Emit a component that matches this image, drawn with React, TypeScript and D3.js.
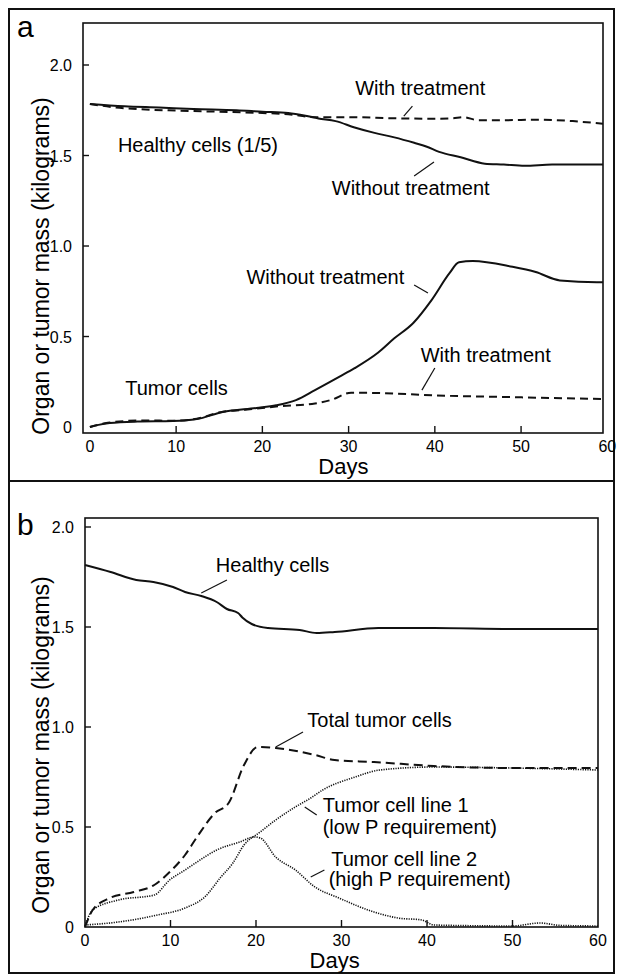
import React, { useEffect, useRef } from "react";
import * as d3 from "d3";

// panel a: healthy organ (scaled 1/5) and tumor, with / without treatment
const healthyWithout = [
  [0, 1.785], [4, 1.772], [8, 1.765], [12, 1.757], [17, 1.75], [20, 1.742], [23, 1.735], [25, 1.72],
  [26.5, 1.705], [28.5, 1.69], [30.7, 1.655], [33, 1.625], [35.3, 1.6], [37.6, 1.57], [39, 1.55],
  [40.5, 1.52], [43, 1.49], [45.8, 1.455], [48, 1.45], [50.4, 1.443], [53.6, 1.45], [59.5, 1.45]
];
const healthyWith = [
  [0, 1.785], [3, 1.765], [6, 1.755], [10, 1.748], [15, 1.742], [20, 1.735], [23, 1.728], [26, 1.712],
  [30, 1.712], [35, 1.706], [40, 1.703], [42, 1.705], [43.3, 1.712], [45, 1.695], [48, 1.695],
  [52, 1.698], [56, 1.69], [59.5, 1.675]
];
const tumorWithout = [
  [0, 0.0], [1, 0.012], [2.3, 0.022], [5.5, 0.03], [9.6, 0.033], [12.4, 0.044], [15.4, 0.083],
  [19.3, 0.105], [21.6, 0.12], [23.9, 0.149], [26.1, 0.204], [28.9, 0.277], [30.7, 0.325],
  [33.4, 0.41], [35.3, 0.49], [37.5, 0.575], [39.6, 0.7], [41.7, 0.85], [42.8, 0.91], [44.4, 0.917],
  [49, 0.885], [51.7, 0.856], [54.5, 0.81], [58.8, 0.8], [59.5, 0.8]
];
const tumorWith = [
  [0, 0.0], [2.3, 0.025], [6, 0.036], [10, 0.035], [12.4, 0.046], [15.4, 0.085], [18, 0.095],
  [20, 0.105], [22, 0.115], [26.1, 0.13], [28, 0.15], [30.3, 0.19], [35.3, 0.185], [39.9, 0.175],
  [49, 0.165], [59.5, 0.155]
];

// panel b: two tumor cell lines
const healthyB = [
  [0, 1.81], [3, 1.775], [6, 1.735], [8, 1.725], [10.3, 1.7], [11.7, 1.675], [13.6, 1.655],
  [15.4, 1.625], [16.6, 1.59], [17.9, 1.57], [18.4, 1.548], [19.5, 1.515], [21.4, 1.495],
  [25.1, 1.485], [27.1, 1.47], [29.2, 1.475], [34.3, 1.495], [40.8, 1.495], [50, 1.49], [60, 1.49]
];
const totalTumor = [
  [0, 0], [0.9, 0.085], [2.9, 0.145], [5.7, 0.175], [8.1, 0.21], [9.9, 0.275], [11.7, 0.36],
  [13.1, 0.45], [15.2, 0.57], [16.8, 0.62], [18.6, 0.81], [20.2, 0.9], [22.3, 0.895], [26.9, 0.86],
  [29.2, 0.835], [33.8, 0.825], [40.8, 0.805], [50, 0.795], [60, 0.795]
];
const lineOne = [
  [0, 0.01], [3.9, 0.025], [8.5, 0.06], [11.7, 0.095], [14, 0.15], [15.9, 0.25], [17.3, 0.32],
  [18.6, 0.41], [20.5, 0.475], [22.3, 0.535], [24.6, 0.6], [26.4, 0.645], [27.8, 0.685],
  [31.6, 0.75], [34.5, 0.785], [40.8, 0.8], [50, 0.795], [60, 0.785]
];
const lineTwo = [
  [0, 0.005], [0.9, 0.085], [3.9, 0.135], [8.1, 0.16], [9.9, 0.235], [11.7, 0.285], [13.1, 0.325],
  [15.4, 0.385], [18.1, 0.425], [19.8, 0.45], [20.5, 0.445], [22.3, 0.35], [24.6, 0.285],
  [26.9, 0.2], [29.7, 0.145], [33.8, 0.075], [36.6, 0.045], [39.4, 0.035], [40.8, 0.01],
  [50, 0.005], [53.2, 0.02], [55.6, 0.008], [60, 0.005]
];

const dayTicks = [0, 10, 20, 30, 40, 50, 60];
const massTicks = [0, 0.5, 1.0, 1.5, 2.0];
const massLabels = ["0", "0.5", "1.0", "1.5", "2.0"];

// annotations: [text, day, value, anchor]
const labelsA = [
  ["With treatment", 38.3, 1.834, "middle"],
  ["Healthy cells (1/5)", 3.25, 1.52, "start"],
  ["Without treatment", 37.2, 1.28, "middle"],
  ["Without treatment", 27.3, 0.79, "middle"],
  ["With treatment", 45.9, 0.36, "middle"],
  ["Tumor cells", 4.1, 0.177, "start"]
];
const leadersA = [
  [37.4, 1.773, 36.4, 1.718],
  [39.9, 1.464, 37.6, 1.387],
  [37.6, 0.785, 39.2, 0.74],
  [40, 0.326, 38.5, 0.204]
];
const labelsB = [
  ["Healthy cells", 15.3, 1.775, "start"],
  ["Total tumor cells", 26, 1.0, "start"],
  ["Tumor cell line 1", 27.8, 0.575, "start"],
  ["(low P requirement)", 27.8, 0.465, "start"],
  ["Tumor cell line 2", 28.8, 0.305, "start"],
  ["(high P requirement)", 28.5, 0.205, "start"]
];
const leadersB = [
  [16.6, 1.735, 13.6, 1.67],
  [25.5, 0.975, 22.3, 0.9],
  [25.7, 0.6, 27.1, 0.56],
  [28, 0.285, 26.4, 0.25]
];

const FONT = "'Liberation Sans', Arial, Helvetica, sans-serif";

function drawPanel(svg, opts) {
  const { x, y, letter, letterY, series, labels, leaders, ylabelY, daysAt } = opts;
  const g = svg.append("g");
  const [x0, x1] = x.range();
  const [y0, y1] = y.range();

  // frame
  g.append("rect")
    .attr("x", x0).attr("y", y1)
    .attr("width", x1 - x0).attr("height", y0 - y1)
    .attr("fill", "none").attr("stroke", "#111").attr("stroke-width", 1.6);

  // ticks point inward
  g.selectAll(".xt").data(dayTicks.filter(d => d > 0 && d < 60)).enter().append("line")
    .attr("x1", d => x(d)).attr("x2", d => x(d))
    .attr("y1", y0).attr("y2", y0 - 7)
    .attr("stroke", "#111").attr("stroke-width", 1.4);
  g.selectAll(".xl").data(dayTicks).enter().append("text")
    .attr("x", d => x(d)).attr("y", y0 + 19)
    .attr("text-anchor", "middle").attr("font-size", 16).attr("font-family", FONT)
    .text(d => d);

  g.selectAll(".yt").data(massTicks.filter(d => d > 0)).enter().append("line")
    .attr("x1", x0).attr("x2", x0 + 6)
    .attr("y1", d => y(d)).attr("y2", d => y(d))
    .attr("stroke", "#111").attr("stroke-width", 1.4);
  g.selectAll(".yl").data(massTicks).enter().append("text")
    .attr("x", x0 - 11).attr("y", d => y(d) + 6)
    .attr("text-anchor", "end").attr("font-size", 16).attr("font-family", FONT)
    .text((d, i) => massLabels[i]);

  g.append("text")
    .attr("x", x(daysAt)).attr("y", y0 + 41)
    .attr("text-anchor", "middle").attr("font-size", 22).attr("font-family", FONT)
    .text("Days");

  g.append("text")
    .attr("transform", `translate(49,${ylabelY}) rotate(-90)`)
    .attr("text-anchor", "middle").attr("font-size", 23).attr("font-family", FONT)
    .text("Organ or tumor mass (kilograms)");

  g.append("text")
    .attr("x", 17).attr("y", letterY)
    .attr("font-size", 30).attr("font-family", FONT)
    .text(letter);

  const line = d3.line().x(d => x(d[0])).y(d => y(d[1])).curve(d3.curveMonotoneX);
  series.forEach(s => {
    g.append("path")
      .attr("d", line(s.data))
      .attr("fill", "none")
      .attr("stroke", "#111")
      .attr("stroke-width", s.width)
      .attr("stroke-dasharray", s.dash || null)
      .attr("stroke-linejoin", "round");
  });

  labels.forEach(l => {
    g.append("text")
      .attr("x", x(l[1])).attr("y", y(l[2]))
      .attr("text-anchor", l[3])
      .attr("font-size", 20).attr("font-family", FONT)
      .text(l[0]);
  });
  leaders.forEach(l => {
    g.append("line")
      .attr("x1", x(l[0])).attr("y1", y(l[1]))
      .attr("x2", x(l[2])).attr("y2", y(l[3]))
      .attr("stroke", "#111").attr("stroke-width", 1.2);
  });
}

export default function App() {
  const ref = useRef(null);

  useEffect(() => {
    const width = 622, height = 975;
    const svg = d3.select(ref.current);
    svg.selectAll("*").remove();

    svg.append("rect").attr("width", width).attr("height", height).attr("fill", "#fff");
    // outer border + divider
    svg.append("rect").attr("x", 9).attr("y", 9).attr("width", 605).attr("height", 964)
      .attr("fill", "none").attr("stroke", "#111").attr("stroke-width", 2);
    svg.append("line").attr("x1", 9).attr("x2", 614).attr("y1", 481).attr("y2", 481)
      .attr("stroke", "#111").attr("stroke-width", 2);

    const xA = d3.scaleLinear().domain([-0.8, 59.5]).range([83, 603]);
    const yA = d3.scaleLinear().domain([-0.033, 2.232]).range([433, 23]);
    drawPanel(svg, {
      x: xA, y: yA, letter: "a", letterY: 37, ylabelY: 266, daysAt: 29.4,
      series: [
        { data: healthyWith, width: 2, dash: "8,5" },
        { data: healthyWithout, width: 2 },
        { data: tumorWith, width: 2, dash: "8,5" },
        { data: tumorWithout, width: 2 }
      ],
      labels: labelsA, leaders: leadersA
    });

    const xB = d3.scaleLinear().domain([0, 60]).range([85, 598]);
    const yB = d3.scaleLinear().domain([0, 2.045]).range([927, 518]);
    drawPanel(svg, {
      x: xB, y: yB, letter: "b", letterY: 535, ylabelY: 745, daysAt: 29.2,
      series: [
        { data: healthyB, width: 2 },
        { data: lineOne, width: 1.6, dash: "1.2,1.2" },
        { data: lineTwo, width: 1.6, dash: "1.2,1.2" },
        { data: totalTumor, width: 2, dash: "9,5" }
      ],
      labels: labelsB, leaders: leadersB
    });
  }, []);

  return (
    <svg ref={ref} width={622} height={975}
      style={{ position: "absolute", left: 0, top: 0, display: "block" }} />
  );
}
